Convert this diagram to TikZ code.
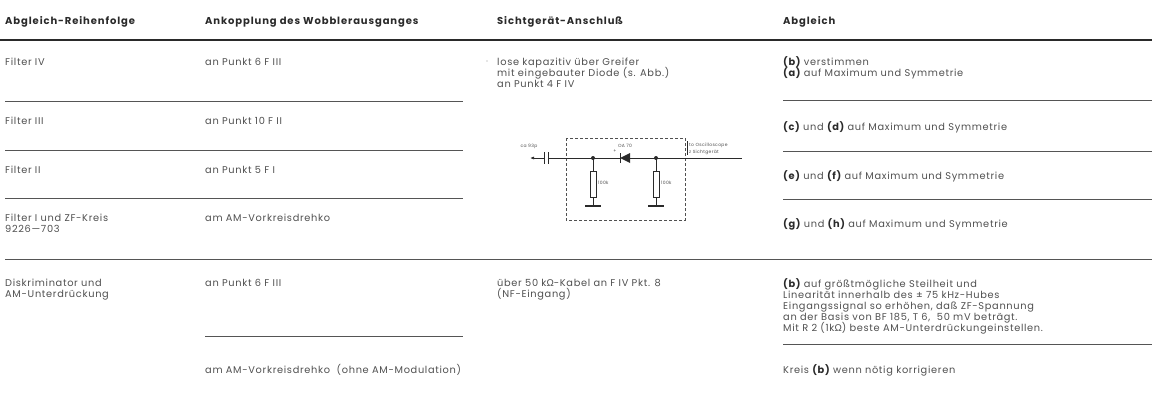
\documentclass[tikz,border=0pt]{standalone}
\usepackage{fontspec}
\setmainfont{Poppins}[LetterSpace=7]
\newfontfamily\hdrfont{Poppins}[LetterSpace=9]
\newfontfamily\omf{Liberation Sans}
\usetikzlibrary{arrows.meta}
\definecolor{txt}{HTML}{505050}
\definecolor{hdr}{HTML}{2A2A2A}
\definecolor{rule}{HTML}{555555}
\tikzset{
  cell/.style={anchor=base west, inner sep=0pt, text=txt, font=\fontsize{9.8}{11}\selectfont},
  head/.style={anchor=base west, inner sep=0pt, text=hdr, font=\fontsize{10}{11}\hdrfont\bfseries},
  rowrule/.style={draw=rule, line width=0.8pt},
  thickrule/.style={draw=hdr, line width=1.8pt},
  tiny/.style={inner sep=0pt, text=txt, font=\fontsize{4.5}{5}\selectfont},
  wire/.style={draw=hdr, line width=0.7pt},
  dot/.style={circle, fill=hdr, inner sep=0pt, minimum size=4pt}
}
\newcommand{\bb}[1]{\textcolor{hdr}{\bfseries #1}}
\newcommand{\Om}{{\omf Ω}}
\begin{document}
\begin{tikzpicture}[x=1pt,y=-1pt]
\useasboundingbox[fill=white] (0,0) rectangle (1157,407);
% headers
\node[head] (h1) at (5,24) {Abgleich-Reihenfolge};
\node[head] (h2) at (205,24) {Ankopplung des Wobblerausganges};
\node[head] (h3) at (497,24) {Sichtgerät-Anschluß};
\node[head] (h4) at (783,24) {Abgleich};
\draw[thickrule] (0,40) -- (1152,40);
% row 1
\node[cell] (r1a) at (5,65) {Filter IV};
\node[cell] (r1b) at (205,65) {an Punkt 6 F III};
\node[cell] (r1c1) at (497,65) {lose kapazitiv über Greifer};
\node[cell] (r1c2) at (497,76) {mit eingebauter Diode (s. Abb.)};
\node[cell] (r1c3) at (497,87) {an Punkt 4 F IV};
\node[cell] (r1d1) at (783,65) {\bb{(b)} verstimmen};
\node[cell] (r1d2) at (783,76) {\bb{(a)} auf Maximum und Symmetrie};
\fill[txt!60] (487,61) circle (0.6pt);
\draw[rowrule] (5,101) -- (463,101);
\draw[rowrule] (783,100) -- (1152,100);
% row 2
\node[cell] (r2a) at (5,124) {Filter III};
\node[cell] (r2b) at (205,124) {an Punkt 10 F II};
\node[cell] (r2d) at (783,130) {\bb{(c)} und \bb{(d)} auf Maximum und Symmetrie};
\draw[rowrule] (5,150) -- (463,150);
\draw[rowrule] (783,151) -- (1152,151);
% row 3
\node[cell] (r3a) at (5,173) {Filter II};
\node[cell] (r3b) at (205,173) {an Punkt 5 F I};
\node[cell] (r3d) at (783,179) {\bb{(e)} und \bb{(f)} auf Maximum und Symmetrie};
\draw[rowrule] (5,198) -- (463,198);
\draw[rowrule] (783,199) -- (1152,199);
% row 4
\node[cell] (r4a1) at (5,221) {Filter I und ZF-Kreis};
\node[cell] (r4a2) at (5,232) {9226—703};
\node[cell] (r4b) at (205,221) {am AM-Vorkreisdrehko};
\node[cell] (r4d) at (783,227) {\bb{(g)} und \bb{(h)} auf Maximum und Symmetrie};
\draw[rowrule] (5,259) -- (1152,259);
% row 5
\node[cell] (r5a1) at (5,286) {Diskriminator und};
\node[cell] (r5a2) at (5,297) {AM-Unterdrückung};
\node[cell] (r5b) at (205,286) {an Punkt 6 F III};
\node[cell] (r5c1) at (497,286) {über 50 k\Om-Kabel an F IV Pkt. 8};
\node[cell] (r5c2) at (497,297) {(NF-Eingang)};
\node[cell] (r5d1) at (783,287) {\bb{(b)} auf größtmögliche Steilheit und};
\node[cell] (r5d2) at (783,298) {Linearität innerhalb des ± 75 kHz-Hubes};
\node[cell] (r5d3) at (783,309) {Eingangssignal so erhöhen, daß ZF-Spannung};
\node[cell] (r5d4) at (783,320) {an der Basis von BF 185, T 6,\ \ 50 mV beträgt.};
\node[cell] (r5d5) at (783,331) {Mit R 2 (1k\Om) beste AM-Unterdrückungeinstellen.};
\draw[rowrule] (205,336) -- (463,336);
\draw[rowrule] (783,344) -- (1152,344);
% row 6
\node[cell] (r6b) at (205,373) {am AM-Vorkreisdrehko\ \ (ohne AM-Modulation)};
\node[cell] (r6d) at (783,373) {Kreis \bb{(b)} wenn nötig korrigieren};
% circuit
\draw[draw=txt, dashed, line width=0.5pt, dash pattern=on 3pt off 2pt] (566,138) rectangle (685,220);
\node[tiny] (lc) at (529,146) {ca 93p};
\node[tiny] (ld) at (625,146) {OA 70};
\node[tiny] (lp) at (615,151) {+};
\draw[wire, -{Latex[length=4pt,width=3pt]}] (544,158) -- (530,158);
\draw[wire, line width=1pt] (544,152) -- (544,164) (548,152) -- (548,164);
\draw[wire] (548,158) -- (620,158) (630,158) -- (742,158);
\fill[hdr] (620,158) -- (630,153) -- (630,163) -- cycle;
\draw[wire, line width=1pt] (620,153) -- (620,163);
\node[dot] (j1) at (593,158) {};
\node[dot] (j2) at (656,158) {};
\foreach \xx/\nm in {593/ra,656/rb}{
  \node[draw=hdr, line width=0.5pt, minimum width=6pt, minimum height=26pt, inner sep=0pt] (\nm) at (\xx,184) {};
  \draw[wire] (\xx,158) -- (\nm.north);
  \draw[wire] (\nm.south) -- (\xx,206);
  \draw[wire, line width=1.4pt] (\xx-8,206) -- (\xx+8,206);
  \node[tiny, anchor=west] at (\xx+5,183) {100k};
}
\draw[wire, line width=0.4pt] (687,141) -- (687,155);
\node[tiny, anchor=west] (lo) at (689,145) {to Oscilloscope};
\node[tiny, anchor=west] (ls) at (689,152) {z Sichtgerät};
\end{tikzpicture}
\end{document}
